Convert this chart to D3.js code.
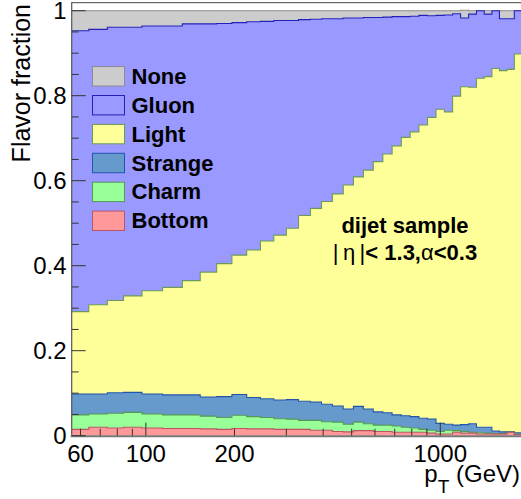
<!DOCTYPE html>
<html>
<head>
<meta charset="utf-8">
<script src="https://cdn.jsdelivr.net/npm/d3@7"></script>
<style>
  html, body { margin: 0; padding: 0; background: #fff; }
  svg { display: block; font-family: "Liberation Sans", Arial, Helvetica, sans-serif; }
</style>
</head>
<body>
<svg id="chart" width="521" height="499"></svg>
<script>
// pT bin edges (GeV)
const binEdges = [56, 64, 74, 84, 97, 114, 133, 153, 174, 196, 220, 245, 272, 300, 330, 362, 395, 430, 468, 507,
  548, 592, 638, 686, 737, 790, 846, 905, 967, 1032, 1101, 1172, 1248, 1327, 1410, 1497, 1588, 1684, 1784, 1890];

// flavour fractions per bin
const bottomFrac  = [.015,.020,.018,.020,.018,.017,.017,.016,.015,.017,.016,.016,.015,.015,.015,.013,.013,.010,.009,.012,
  .012,.010,.010,.008,.008,.008,.008,.006,.004,.004,.008,.006,.006,.004,.004,.004,.004,.008,.003];
const charmFrac   = [.034,.031,.035,.035,.033,.032,.032,.030,.028,.031,.029,.027,.025,.024,.021,.023,.020,.022,.018,.020,
  .016,.015,.015,.015,.012,.010,.007,.007,.006,.009,.004,.004,.002,.003,.002,.001,.001,.001,.001];
const strangeFrac = [.049,.047,.048,.047,.047,.047,.047,.045,.049,.049,.045,.044,.044,.046,.045,.043,.041,.038,.036,.037,
  .035,.031,.029,.026,.027,.027,.026,.026,.019,.014,.013,.016,.020,.013,.014,.006,.004,.001,.003];
const lightFrac   = [.194,.210,.217,.227,.243,.253,.269,.294,.313,.328,.347,.371,.388,.403,.437,.456,.477,.499,.527,.540,
  .562,.589,.609,.633,.655,.670,.690,.710,.739,.735,.774,.795,.792,.821,.825,.853,.850,.852,.891];
const gluonFrac   = [.661,.648,.643,.632,.623,.615,.604,.584,.565,.547,.537,.517,.505,.489,.461,.445,.430,.412,.393,.374,
  .359,.339,.322,.304,.284,.272,.258,.239,.221,.228,.194,.162,.172,.159,.147,.136,.122,.119,.102];
const noneFrac    = [.047,.044,.039,.039,.036,.036,.031,.031,.030,.028,.026,.025,.023,.023,.021,.020,.019,.019,.017,.017,
  .016,.016,.015,.014,.014,.013,.011,.012,.011,.010,.007,.018,.008,.000,.008,.000,.019,.019,.000];

const flavors = ["Bottom", "Charm", "Strange", "Light", "Gluon", "None"];
const legendOrder = ["None", "Gluon", "Light", "Strange", "Charm", "Bottom"];
const fillColors = { None: "#cccccc", Gluon: "#9999ff", Light: "#ffff99", Strange: "#6699cc", Charm: "#99ff99", Bottom: "#ff9999" };
const lineColors = { None: "#8c8c8c", Gluon: "#2222bb", Light: "#6a9a5a", Strange: "#2255aa", Charm: "#559955", Bottom: "#bb5566" };

const xTickValues = [60, 70, 80, 90, 100, 200, 300, 400, 500, 600, 700, 800, 900, 1000];
const xMajorTicks = [100, 1000];
const xTickLabels = [60, 100, 200, 1000];
const yTickLabels = [0, 0.2, 0.4, 0.6, 0.8, 1];

const svg = d3.select("#chart");
const pLeft = 71.7, pRight = 521.7, pTop = 2.2, pBottom = 435.7;
const x = d3.scaleLog().domain([56, 1890]).range([pLeft, pRight]);
const y = d3.scaleLinear().domain([0, 1.02]).range([pBottom, pTop]);

// build table
const fracs = { Bottom: bottomFrac, Charm: charmFrac, Strange: strangeFrac, Light: lightFrac, Gluon: gluonFrac, None: noneFrac };
const rows = binEdges.map((e, i) => {
  const k = Math.min(i, bottomFrac.length - 1);
  const r = { edge: e };
  flavors.forEach(f => r[f] = fracs[f][k]);
  return r;
});
const stack = d3.stack().keys(flavors)(rows);

svg.append("defs").append("clipPath").attr("id", "plotclip")
  .append("rect").attr("x", pLeft).attr("y", pTop).attr("width", pRight - pLeft).attr("height", pBottom - pTop);

const g = svg.append("g").attr("clip-path", "url(#plotclip)");

const area = d3.area().curve(d3.curveStepAfter)
  .x(d => x(d.data.edge)).y0(d => y(d[0])).y1(d => y(d[1]));
const line = d3.line().curve(d3.curveStepAfter)
  .x(d => x(d.data.edge)).y(d => y(d[1]));

stack.forEach(layer => {
  g.append("path").attr("d", area(layer)).attr("fill", fillColors[layer.key]).attr("stroke", "none");
});
// outlines: top-most first, lower ones drawn over
stack.slice().reverse().forEach(layer => {
  g.append("path").attr("d", line(layer)).attr("fill", "none")
    .attr("stroke", lineColors[layer.key]).attr("stroke-width", 1.1);
});

// frame
svg.append("line").attr("x1", pLeft).attr("x2", 521).attr("y1", pTop + 0.5).attr("y2", pTop + 0.5)
  .attr("stroke", "#444").attr("stroke-width", 1);
svg.append("line").attr("x1", pLeft).attr("x2", pLeft).attr("y1", pTop).attr("y2", pBottom)
  .attr("stroke", "#555").attr("stroke-width", 1.2);
svg.append("line").attr("x1", pLeft - 1).attr("x2", 521).attr("y1", pBottom + 0.5).attr("y2", pBottom + 0.5)
  .attr("stroke", "#777").attr("stroke-width", 2);

// y ticks
const yTicks = d3.range(0, 1.0001, 0.05);
svg.append("g").selectAll("line").data(yTicks).join("line")
  .attr("x1", pLeft).attr("x2", d => pLeft + (Math.abs(d / 0.2 - Math.round(d / 0.2)) < 1e-6 ? 14 : 7))
  .attr("y1", d => y(d)).attr("y2", d => y(d))
  .attr("stroke", "#333").attr("stroke-width", 1);
svg.append("g").selectAll("text").data(yTickLabels).join("text")
  .attr("x", 66.5).attr("y", d => y(d) + 8.5)
  .attr("text-anchor", "end").attr("font-size", 24).attr("fill", "#000")
  .text(d => d3.format("~g")(d));

// x ticks
svg.append("g").selectAll("line").data(xTickValues).join("line")
  .attr("x1", d => x(d)).attr("x2", d => x(d))
  .attr("y1", pBottom).attr("y2", d => pBottom - (xMajorTicks.includes(d) ? 13 : 7))
  .attr("stroke", "#333").attr("stroke-width", 1);
svg.append("g").selectAll("text").data(xTickLabels).join("text")
  .attr("x", d => x(d)).attr("y", 461.5)
  .attr("text-anchor", "middle").attr("font-size", 24).attr("fill", "#000")
  .text(d => d);

// axis titles
const xt = svg.append("text").attr("x", 520).attr("y", 482).attr("text-anchor", "end")
  .attr("font-size", 24).attr("fill", "#000");
xt.append("tspan").text("p");
xt.append("tspan").attr("font-size", 19).attr("dy", 11).text("T");
xt.append("tspan").attr("dy", -11).text(" (GeV)");

svg.append("text").attr("transform", "translate(30,4) rotate(-90)")
  .attr("text-anchor", "end").attr("font-size", 25).attr("fill", "#000")
  .text("Flavor fraction");

// legend
const lg = svg.append("g");
legendOrder.forEach((f, i) => {
  const cy = 76.3 + i * 28.9;
  lg.append("rect").attr("x", 92.5).attr("y", cy - 9.7).attr("width", 32).attr("height", 19.4)
    .attr("fill", fillColors[f]).attr("stroke", lineColors[f]).attr("stroke-width", 1);
  lg.append("text").attr("x", 131.5).attr("y", cy + 7.5).attr("font-size", 22).attr("font-weight", "bold")
    .attr("fill", "#000").text(f);
});

// annotation
svg.append("text").attr("x", 405).attr("y", 233).attr("text-anchor", "middle")
  .attr("font-size", 22).attr("font-weight", "bold").text("dijet sample");
const t2 = svg.append("text").attr("x", 405).attr("y", 260).attr("text-anchor", "middle")
  .attr("font-size", 22).attr("font-weight", "bold");
t2.append("tspan").attr("font-weight", "normal").text("|\u2009η\u2009|");
t2.append("tspan").text("< 1.3,");
t2.append("tspan").attr("font-weight", "normal").text("α");
t2.append("tspan").text("<0.3");
</script>
</body>
</html>
